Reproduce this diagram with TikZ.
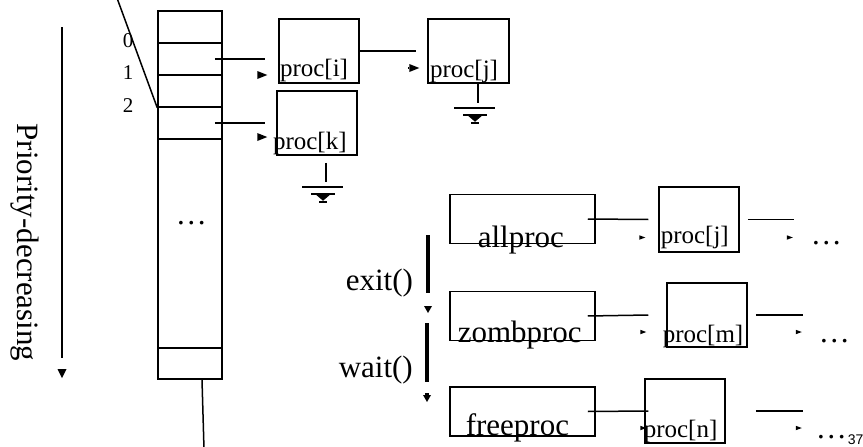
\documentclass[tikz,border=0pt]{standalone}
\usepackage{fontspec}
\setmainfont{Liberation Serif}
\newfontfamily\pagenumfont{Liberation Sans}
\usetikzlibrary{positioning, arrows.meta}

\begin{document}
\begin{tikzpicture}[
    x=1pt, y=-1pt,
    line width=1.5pt,
]
% ── Styles ──
\tikzset{
    slot/.style={draw, rectangle, minimum width=64pt, inner sep=0pt},
    procbox/.style={draw, rectangle, minimum width=80pt, minimum height=64pt, inner sep=0pt},
    listbox/.style={draw, rectangle, minimum width=145pt, minimum height=49pt, inner sep=0pt},
    bigtext/.style={font=\fontsize{31}{36}\selectfont, inner sep=0pt, anchor=base west},
    proctext/.style={font=\fontsize{25}{30}\selectfont, inner sep=0pt, anchor=base west},
    idxtext/.style={font=\fontsize{21}{25}\selectfont, inner sep=0pt, anchor=base west},
    link/.style={-{Triangle[length=10pt,width=8pt,line width=0pt]}},
    chain/.style={-{Triangle[length=6pt,width=4.5pt,line width=0pt]}},
    prio/.style={-{Triangle[length=9pt,width=9pt,line width=0pt]}},
    move/.style={line width=3.5pt, -{Triangle[length=7pt,width=8pt,line width=0pt]}},
}
\useasboundingbox (0,0) rectangle (863,447);

% ── Priority table ──
\foreach \i in {0,...,3}
    \node[slot, minimum height=32pt] (slot\i) at (190,27+32*\i) {};
\node[slot, minimum height=209pt] (slotmid) at (190,243.5) {};
\node[slot, minimum height=31pt] (slotlast) at (190,363.5) {};

\node[idxtext] (n0) at (122,47) {0};
\node[idxtext] (n1) at (122,79) {1};
\node[idxtext] (n2) at (122,112) {2};
\node[bigtext] (tdots) at (175,224) {…};

\coordinate (slanttop) at (117,-2);
\coordinate (tailend) at (204,449);
\draw (slanttop) -- (slot2.south west);
\draw ([xshift=12pt]slotlast.south) -- (tailend);

% ── Priority arrow ──
\coordinate (prtop) at (62,27);
\coordinate (prbot) at (62,358);
\draw[prio] (prtop) -- (prbot) ([yshift=-11pt]prbot) -- ([yshift=-20pt]prbot);
\node[bigtext, rotate=-90] (priolbl) at (17,123) {Priority-decreasing};

% ── Run queues ──
\node[procbox] (pi) at (319,51) {};
\node[procbox, minimum width=81pt] (pj) at (468.5,51) {};
\node[procbox] (pk) at (317,123) {};
\node[proctext] (pilbl) at ([xshift=1pt,yshift=7pt]pi.south west) {proc[i]};
\node[proctext] (pjlbl) at ([xshift=2pt,yshift=6pt]pj.south west) {proc[j]};
\node[proctext] (pklbl) at ([xshift=-4pt,yshift=6pt]pk.south west) {proc[k]};

\draw[link] ([xshift=-8pt]slot1.east) -- ([xshift=-13pt]pi.west |- slot1.east)
    ([xshift=-21pt,yshift=-24pt]pi.west) -- ([xshift=-11pt,yshift=-24pt]pi.west);
\draw[link] ([xshift=-8pt]slot3.east) -- ([xshift=-11pt]pk.west |- slot3.east)
    ([xshift=-19pt,yshift=-14pt]pk.west) -- ([xshift=-9pt,yshift=-14pt]pk.west);
\draw[link] (pi.east) -- ([xshift=-11pt]pj.west)
    ([xshift=-19pt,yshift=-17pt]pj.west) -- ([xshift=-8pt,yshift=-17pt]pj.west);

% ground symbols
\coordinate (gj) at ([xshift=9.5pt]pj.south);
\coordinate (gk) at ([xshift=9pt,yshift=-7pt]pk.south);
\foreach \g in {gj,gk} {
    \draw (\g) -- ++(0,19);
    \draw ([shift={(-24,24)}]\g) -- ++(41,0);
    \draw ([shift={(-15,31)}]\g) -- ++(24,0);
    \fill ([shift={(-10,32)}]\g) -- ++(14,0) -- ++(-7,6) -- cycle;
    \draw ([shift={(-7,39)}]\g) -- ++(8,0);
}

% ── Process lists ──
\node[listbox] (allbox) at (522.5,219) {};
\node[listbox] (zombbox) at (522.5,316) {};
\node[listbox] (freebox) at (522.5,411.5) {};
\node[bigtext] (alllbl) at (477,247) {allproc};
\node[bigtext] (zomblbl) at (457,342) {zombproc};
\node[bigtext] (freelbl) at (465,435) {freeproc};

\node[procbox, minimum height=65pt] (pj2) at (699,219.5) {};
\node[procbox] (pm) at (707,315) {};
\node[procbox] (pn) at (685,411) {};
\node[proctext] (pj2lbl) at (660,243) {proc[j]};
\node[proctext] (pmlbl) at (662,342) {proc[m]};
\node[proctext] (pnlbl) at (643,437) {proc[n]};

\node[bigtext] (dots1) at (810,244) {…};
\node[bigtext] (dots2) at (818,342) {…};
\node[bigtext] (dots3) at (815,438) {…};

\draw[chain] ([xshift=-8pt]allbox.east) -- ([xshift=-10pt]pj2.west)
    ([xshift=-19pt,yshift=-18pt]pj2.west) -- ([xshift=-13pt,yshift=-18pt]pj2.west);
\draw[chain] ([xshift=8pt]pj2.east) -- ++(46,0) ++(-7,18) -- ++(6,0);
\draw[chain] ([xshift=-8pt]zombbox.east) -- ([xshift=-18pt]pm.west)
    ([xshift=-26pt,yshift=-17pt]pm.west) -- ([xshift=-20pt,yshift=-17pt]pm.west);
\draw[chain] ([xshift=8pt]pm.east) -- ++(47,0) ++(-7,17) -- ++(6,0);
\draw[chain] ([xshift=-8pt]freebox.east) -- ([xshift=4pt]pn.west)
    ([xshift=-4pt,yshift=-17pt]pn.west) -- ([xshift=2pt,yshift=-17pt]pn.west);
\draw[chain] ([xshift=30pt]pn.east) -- ++(47,0) ++(-7,17) -- ++(6,0);

% ── exit() / wait() ──
\coordinate (exittop) at (428,235);
\coordinate (waittop) at (427,323);
\draw[move] (exittop) -- ++(0,58) ++(0,13) -- ++(0,7);
\draw[move] (waittop) -- ++(0,59) ++(0,11) -- ++(0,9);
\node[bigtext] (exitlbl) at (345,290) {exit()};
\node[bigtext] (waitlbl) at (338,377) {wait()};

\node[font=\pagenumfont\fontsize{14}{16}\selectfont, inner sep=0pt, anchor=base west] (pgnum) at (847,444) {37};
\end{tikzpicture}
\end{document}
